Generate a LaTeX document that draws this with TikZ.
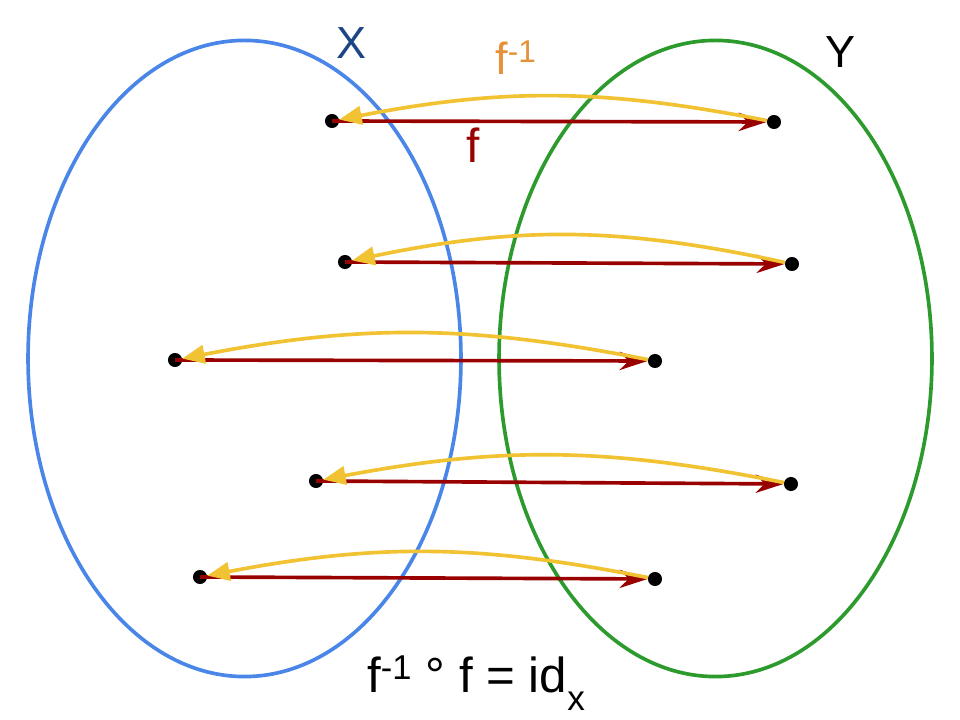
\documentclass[tikz,border=0pt]{standalone}
\usepackage{fontspec}
\setmainfont{Liberation Sans}
\usetikzlibrary{arrows.meta}
\definecolor{setblue}{RGB}{74,134,232}
\definecolor{setgreen}{RGB}{44,154,44}
\definecolor{labelblue}{RGB}{28,69,135}
\definecolor{fred}{RGB}{153,0,0}
\definecolor{finvyellow}{RGB}{241,194,50}
\definecolor{finvorange}{RGB}{230,145,56}
\begin{document}
\begin{tikzpicture}[
		    x=0.025cm, y=0.025cm,
		    elem/.style={circle,fill=black,inner sep=0pt,minimum size=10pt},
		    fmap/.style={draw=fred,line width=2.6pt,-{Stealth[length=20pt,width=13pt]}},
		    finv/.style={draw=finvyellow,line width=2.6pt,-{Triangle[length=16pt,width=13pt]}},
		    lbl/.style={anchor=base,font=\fontsize{32}{36}\selectfont}]
			\useasboundingbox (0,0) rectangle (960,-720);
			% the two sets
			\draw[setblue,line width=2.6pt] (244.5,-358.5) ellipse [x radius=5.41cm, y radius=7.95cm];
			\draw[setgreen,line width=2.6pt] (715.5,-358.5) ellipse [x radius=5.41cm, y radius=7.95cm];
			\node[lbl,text=labelblue] (setx) at (352,-59) {X};
			\node[lbl] (sety) at (840,-68) {Y};
			% elements
			\node[elem] (x1) at (332,-121) {};
			\node[elem] (y1) at (774,-122) {};
			\node[elem] (x2) at (345,-262) {};
			\node[elem] (y2) at (792,-264) {};
			\node[elem] (x3) at (175,-360) {};
			\node[elem] (y3) at (655,-361) {};
			\node[elem] (x4) at (316,-481) {};
			\node[elem] (y4) at (791,-484) {};
			\node[elem] (x5) at (200,-577) {};
			\node[elem] (y5) at (655,-579) {};
			% f and its inverse
			\draw[fmap] (x1.center) -- (y1);
			\draw[fmap] (x2.center) -- (y2);
			\draw[fmap] (x3.center) -- (y3);
			\draw[fmap] (x4.center) -- (y4);
			\draw[fmap] (x5.center) -- (y5);
			\draw[finv] (y1) to[bend right=11] (x1);
			\draw[finv] (y2) to[bend right=12] (x2);
			\draw[finv] (y3) to[bend right=11] (x3);
			\draw[finv] (y4) to[bend right=11] (x4);
			\draw[finv] (y5) to[bend right=11] (x5);
			\node[lbl,text=finvorange] (finvlabel) at (516,-75) {f\textsuperscript{-1}};
			\node[lbl,text=fred,font=\fontsize{34}{38}\selectfont] (flabel) at (473,-163) {f};
			\node[lbl,font=\fontsize{35}{40}\selectfont] (comp) at (476,-692) {f\textsuperscript{-1} ° f = id\raisebox{-13pt}{\fontsize{25}{28}\selectfont x}};
		\end{tikzpicture}
\end{document}
